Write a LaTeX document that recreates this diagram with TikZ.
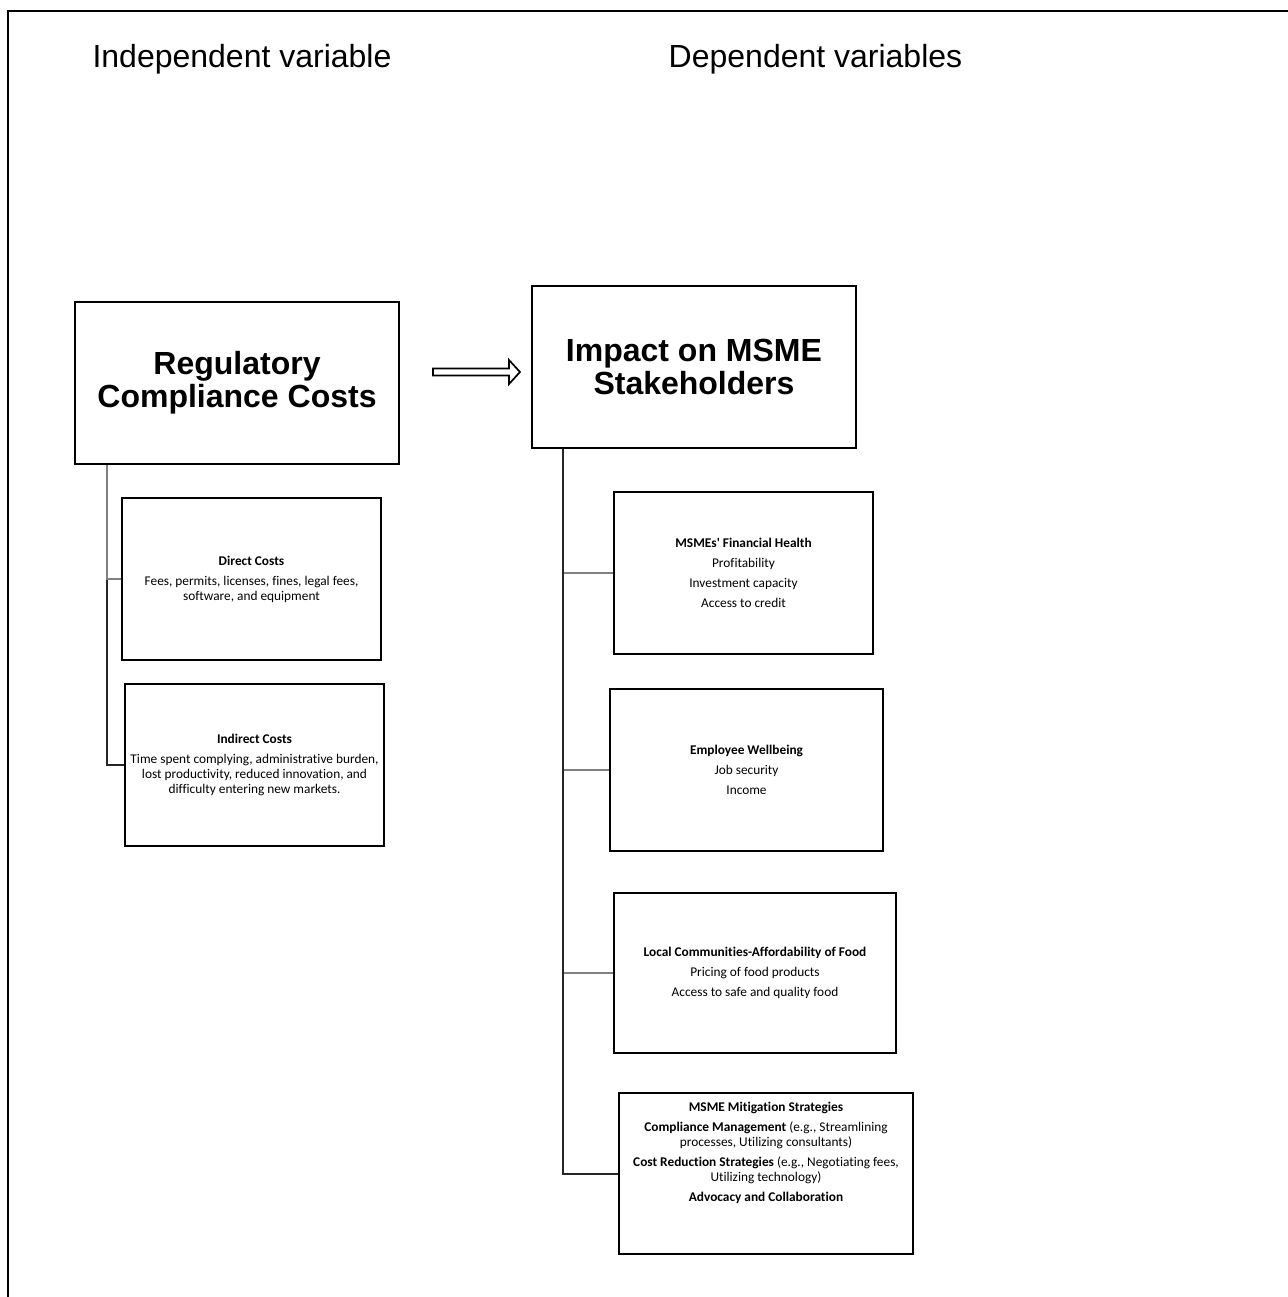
\documentclass[tikz,border=0pt]{standalone}
\usepackage{fontspec}
\setmainfont{Liberation Sans}
\newfontfamily\calib{Carlito}[Ligatures=NoCommon]
\usetikzlibrary{calc}
\begin{document}
\begin{tikzpicture}[x=0.75pt,y=-0.75pt,
 bigbox/.style={draw, line width=2.1pt, inner sep=0pt, align=center, minimum width=243pt, minimum height=121.5pt, font=\fontsize{24}{25}\selectfont\bfseries},
 smallbox/.style={draw, line width=2.1pt, inner sep=0pt, align=center, minimum height=121.5pt, font=\calib\fontsize{10}{11.25}\selectfont},
 smalltext/.style={inner sep=0pt, align=center, font=\calib\fontsize{10}{11.25}\selectfont},
 titletext/.style={font=\fontsize{24}{28}\selectfont, anchor=base, inner sep=0pt},
 graycon/.style={draw=black!50, line width=1.5pt},
 darkcon/.style={draw=black!85, line width=1.5pt},
]
\useasboundingbox (0,0) rectangle (1288,1297);
\draw[line width=2.2pt] (8,1297) -- (8,11) -- (1288,11);

\node[titletext] (tind) at (242,67) {Independent variable};
\node[titletext] (tdep) at (815.5,67) {Dependent variables};

\node[bigbox] (reg) at (237,383) {Regulatory\\Compliance Costs};
\node[bigbox] (imp) at (694,367) {Impact on MSME\\Stakeholders};

\draw[line width=1.3pt, line join=miter] (433,368.5) -- (509,368.5) -- (509,360) -- (520,372) -- (509,384) -- (509,375.5) -- (433,375.5) -- cycle;

\node[smallbox, minimum width=194.25pt] (dir) at (251.5,579) {\textbf{Direct Costs}\\[3.75pt] Fees, permits, licenses, fines, legal fees,\\ software, and equipment};
\node[smallbox, minimum width=194.25pt] (ind) at (254.5,765) {\textbf{Indirect Costs}\\[3.75pt] Time spent complying, administrative burden,\\ lost productivity, reduced innovation, and\\ difficulty entering new markets.};
\node[smallbox, minimum width=194.25pt] (fin) at (743.5,573) {\textbf{MSMEs' Financial Health}\\[3.75pt] Profitability\\[3.75pt] Investment capacity\\[3.75pt] Access to credit};
\node[smallbox, minimum width=204.75pt] (emp) at (746.5,770) {\textbf{Employee Wellbeing}\\[3.75pt] Job security\\[3.75pt] Income};
\node[smallbox, minimum width=211.5pt, minimum height=120pt] (loc) at (755,973) {\textbf{Local Communities-Affordability of Food}\\[3.75pt] Pricing of food products\\[3.75pt] Access to safe and quality food};
\node[smallbox, minimum width=220.5pt, minimum height=120.75pt] (mit) at (766,1173.5) {};
\node[smalltext] (mittext) at (766,1153) {\textbf{MSME Mitigation Strategies}\\[3.75pt] \textbf{Compliance Management} (e.g., Streamlining\\ processes, Utilizing consultants)\\[3.75pt] \textbf{Cost Reduction Strategies} (e.g., Negotiating fees,\\ Utilizing technology)\\[3.75pt] \textbf{Advocacy and Collaboration}};

\coordinate (lt) at ($(reg.south west)+(33,0)$);
\draw[darkcon] (lt) |- (ind.west);
\draw[graycon] (lt) |- (dir.west);

\coordinate (rt) at ($(imp.south west)+(32,0)$);
\draw[graycon] (rt) |- (fin.west);
\draw[graycon] (rt) |- (emp.west);
\draw[graycon] (rt) |- (loc.west);
\draw[darkcon] (rt) |- (mit.west);
\end{tikzpicture}
\end{document}
